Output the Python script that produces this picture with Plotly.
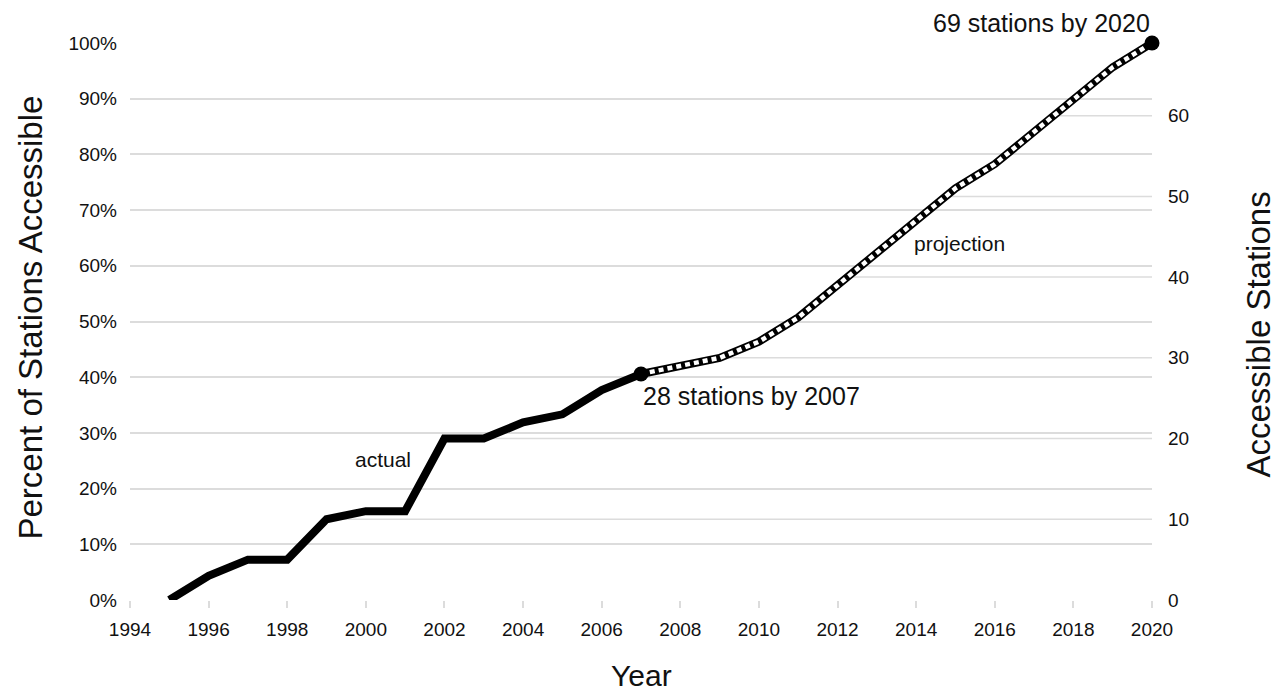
import numpy as np
import plotly.graph_objects as go

# Accessible stations per year
actual_years = [1995, 1996, 1997, 1998, 1999, 2000, 2001, 2002, 2003, 2004, 2005, 2006, 2007]
actual_stations = [0, 3, 5, 5, 10, 11, 11, 20, 20, 22, 23, 26, 28]

proj_years = [2007, 2008, 2009, 2010, 2011, 2012, 2013, 2014, 2015, 2016, 2017, 2018, 2019, 2020]
proj_stations = [28, 29, 30, 32, 35, 39, 43, 47, 51, 54, 58, 62, 66, 69]

TOTAL_STATIONS = 69
station_ticks = [0, 10, 20, 30, 40, 50, 60]
pct_ticks = [0, 0.1, 0.2, 0.3, 0.4, 0.5, 0.6, 0.7, 0.8, 0.9, 1.0]
year_ticks = list(range(1994, 2021, 2))

FONT = "Liberation Sans, Arial, Helvetica, sans-serif"
GRID = "#dcdcdc"
INK = "#111111"

fig = go.Figure()

# actual series (solid black)
fig.add_trace(go.Scatter(
    x=actual_years, y=actual_stations, yaxis="y2", mode="lines",
    line=dict(color="black", width=8), showlegend=False, hoverinfo="skip",
))
# projection: black line with white dashes inside
fig.add_trace(go.Scatter(
    x=proj_years, y=proj_stations, yaxis="y2", mode="lines",
    line=dict(color="black", width=8), showlegend=False, hoverinfo="skip",
))
fig.add_trace(go.Scatter(
    x=proj_years, y=proj_stations, yaxis="y2", mode="lines",
    line=dict(color="white", width=4.5, dash="5px,4px"),
    showlegend=False, hoverinfo="skip",
))
# end-point markers
fig.add_trace(go.Scatter(
    x=[actual_years[-1], proj_years[-1]],
    y=[actual_stations[-1], proj_stations[-1]], yaxis="y2",
    mode="markers", marker=dict(color="black", size=15),
    showlegend=False, hoverinfo="skip", cliponaxis=False,
))
# percent scale companion (invisible) so the left axis is active
fig.add_trace(go.Scatter(
    x=actual_years + proj_years[1:],
    y=[s / TOTAL_STATIONS for s in actual_stations + proj_stations[1:]],
    mode="lines", line=dict(width=0, color="rgba(0,0,0,0)"),
    showlegend=False, hoverinfo="skip",
))

# station gridlines run from where the series first reaches the level to the right edge
all_years = np.array(actual_years + proj_years[1:], dtype=float)
all_stations = np.array(actual_stations + proj_stations[1:], dtype=float)
for v in station_ticks[1:]:
    idx = int(np.argmax(all_stations >= v))
    if idx == 0:
        x_start = all_years[0]
    else:
        x0, x1 = all_years[idx - 1], all_years[idx]
        s0, s1 = all_stations[idx - 1], all_stations[idx]
        x_start = x0 + (v - s0) / (s1 - s0) * (x1 - x0)
    fig.add_shape(type="line", xref="x", yref="y2", x0=x_start, x1=year_ticks[-1],
                  y0=v, y1=v, line=dict(color=GRID, width=1.5), layer="below")

annotations = [
    dict(text="69 stations by 2020", x=proj_years[-1], y=proj_stations[-1], xref="x", yref="y2",
         xshift=-111, yshift=20, showarrow=False, font=dict(size=25, color=INK)),
    dict(text="28 stations by 2007", x=actual_years[-1], y=actual_stations[-1], xref="x", yref="y2",
         xanchor="left", xshift=0, yshift=-22, showarrow=False, font=dict(size=25, color=INK)),
    dict(text="actual", x=2000.44, y=0.253, xref="x", yref="y",
         showarrow=False, font=dict(size=21, color=INK)),
    dict(text="projection", x=2015.1, y=0.64, xref="x", yref="y",
         showarrow=False, font=dict(size=21, color=INK)),
    dict(text="Percent of Stations Accessible", x=0, y=0.5, xref="paper", yref="paper",
         xanchor="center", yanchor="middle", xshift=-100, yshift=4, textangle=-90,
         showarrow=False, font=dict(size=33, color=INK)),
    dict(text="Accessible Stations", x=1, y=0.5, xref="paper", yref="paper",
         xanchor="center", yanchor="middle", xshift=106, yshift=-13, textangle=-90,
         showarrow=False, font=dict(size=33, color=INK)),
    dict(text="Year", x=0.5, y=0, xref="paper", yref="paper",
         xanchor="center", yanchor="middle", yshift=-75,
         showarrow=False, font=dict(size=30, color=INK)),
]

fig.update_layout(
    width=1278, height=694,
    margin=dict(l=130, r=126, t=43, b=94),
    paper_bgcolor="white", plot_bgcolor="white",
    font=dict(family=FONT, color=INK),
    annotations=annotations,
    xaxis=dict(
        range=[year_ticks[0], year_ticks[-1]], tickvals=year_ticks,
        ticktext=[str(y) for y in year_ticks],
        showgrid=False, zeroline=False, showline=False,
        ticks="outside", ticklen=7, tickcolor=GRID, tickwidth=1.5,
        ticklabelstandoff=5,
        tickfont=dict(size=19, color=INK),
    ),
    yaxis=dict(
        range=[0, 1], tickvals=pct_ticks, tickformat=".0%",
        showgrid=True, gridcolor=GRID, gridwidth=1.5,
        zeroline=False, showline=False, ticks="",
        ticklabelstandoff=12,
        tickfont=dict(size=19, color=INK),
    ),
    yaxis2=dict(
        range=[0, TOTAL_STATIONS], tickvals=station_ticks, overlaying="y", side="right",
        showgrid=False, zeroline=False, showline=False, ticks="",
        ticklabelstandoff=15,
        tickfont=dict(size=19, color=INK),
    ),
)

fig.write_html("out.html")
